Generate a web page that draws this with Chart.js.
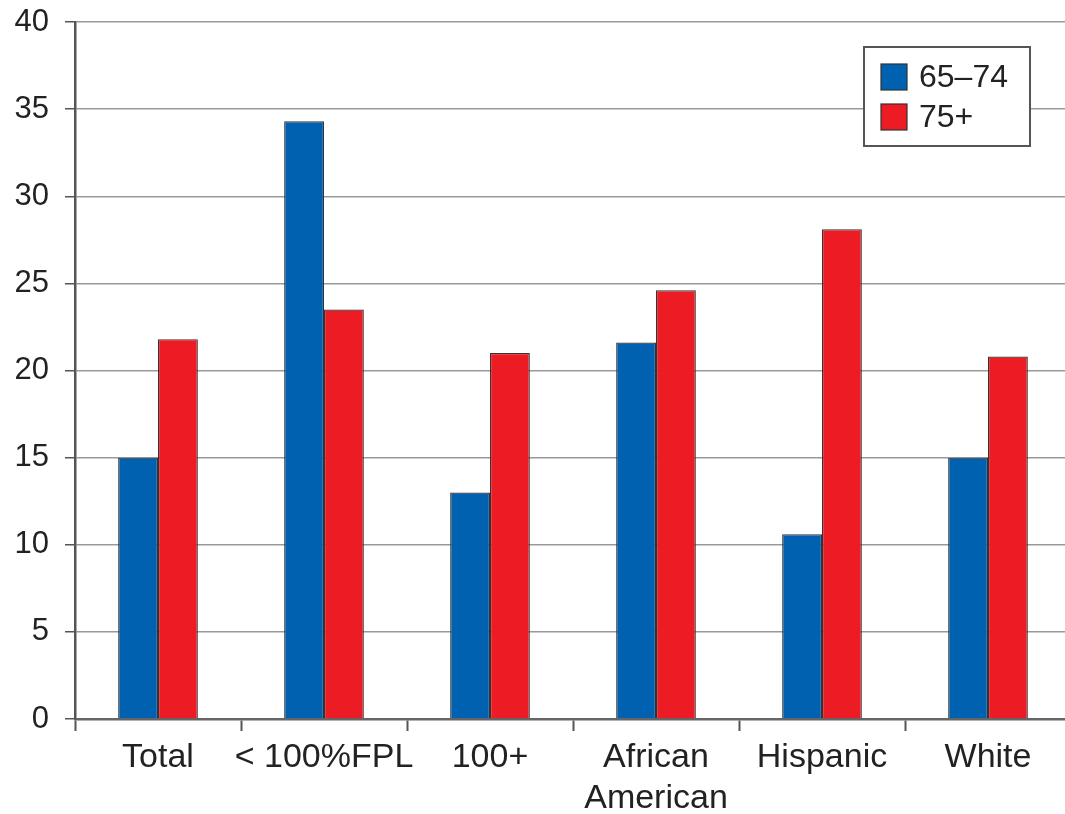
<!DOCTYPE html>
<html>
<head>
<meta charset="utf-8">
<script src="https://cdn.jsdelivr.net/npm/chart.js@4/dist/chart.umd.min.js"></script>
<style>
  html, body { margin: 0; padding: 0; background: #fff; overflow: hidden; }
  #wrap { width: 1080px; height: 814px; }
</style>
</head>
<body>
<div id="wrap"><canvas id="cnv_age_chart"></canvas></div>
<script>
const categories = ['Total', '< 100%FPL', '100+', ['African', 'American'], 'Hispanic', 'White']
const age6574 = [15.0, 34.3, 13.0, 21.6, 10.6, 15.0]
const age75plus = [21.8, 23.5, 21.0, 24.6, 28.1, 20.8]
const seriesNames = ['65\u201374', '75+']
const seriesColors = ['#0061b1', '#ed1c24']
const fontFamily = '"Liberation Sans", Arial, Helvetica, sans-serif'

// legend box drawn inside the plot, top right
const boxLegend = {
    id: 'boxLegend',
    afterDraw(chart) {
        const ctx = chart.ctx
        const x = 864, y = 47, w = 166, h = 99
        ctx.save()
        ctx.fillStyle = '#fff'
        ctx.fillRect(x, y, w, h)
        ctx.strokeStyle = '#555'
        ctx.lineWidth = 2
        ctx.strokeRect(x, y, w, h)
        ctx.font = '32px ' + fontFamily
        ctx.textBaseline = 'middle'
        chart.data.datasets.forEach((ds, i) => {
            const cy = y + 30 + i * 40
            ctx.fillStyle = ds.backgroundColor
            ctx.fillRect(x + 17, cy - 13, 26, 26)
            ctx.strokeStyle = '#333'
            ctx.lineWidth = 1.2
            ctx.strokeRect(x + 17, cy - 13, 26, 26)
            ctx.fillStyle = '#222'
            ctx.fillText(ds.label, x + 55, cy + 1)
        })
        ctx.restore()
    }
}

const ctx = document.getElementById('cnv_age_chart').getContext('2d')
const myChart = new Chart(ctx, {
    type: 'bar',
    plugins: [boxLegend],
    data: {
        labels: categories,
        datasets: [{
            label: seriesNames[0],
            data: age6574,
            backgroundColor: seriesColors[0],
            borderColor: '#333',
            borderWidth: 1.2
        }, {
            label: seriesNames[1],
            data: age75plus,
            backgroundColor: seriesColors[1],
            borderColor: '#333',
            borderWidth: 1.2
        }]
    },
    options: {
        responsive: true,
        maintainAspectRatio: false,
        animation: false,
        layout: { padding: { top: 22, right: 9, left: 0, bottom: 0 } },
        plugins: {
            legend: { display: false },
            tooltip: { enabled: false }
        },
        datasets: {
            bar: { categoryPercentage: 0.48, barPercentage: 1.0 }
        },
        scales: {
            x: {
                afterFit: (scale) => { scale.height = 95 },
                grid: {
                    drawOnChartArea: false,
                    drawTicks: true,
                    tickLength: 12,
                    tickColor: '#555',
                    tickWidth: 2
                },
                border: { color: '#666', width: 2.5 },
                ticks: {
                    color: '#222',
                    padding: 6,
                    maxRotation: 0,
                    autoSkip: false,
                    font: { family: fontFamily, size: 34 }
                }
            },
            y: {
                min: 0,
                max: 40,
                afterFit: (scale) => {
                    scale.width = 75
                    // let layout padding decide the top edge
                    scale.paddingTop = 0
                    scale.paddingBottom = 0
                },
                grid: {
                    color: '#999',
                    lineWidth: 1.5,
                    tickLength: 10,
                    tickColor: '#555'
                },
                border: { color: '#555', width: 2.5 },
                ticks: {
                    stepSize: 5,
                    color: '#222',
                    padding: 16,
                    font: { family: fontFamily, size: 31 }
                }
            }
        }
    }
})
</script>
</body>
</html>
